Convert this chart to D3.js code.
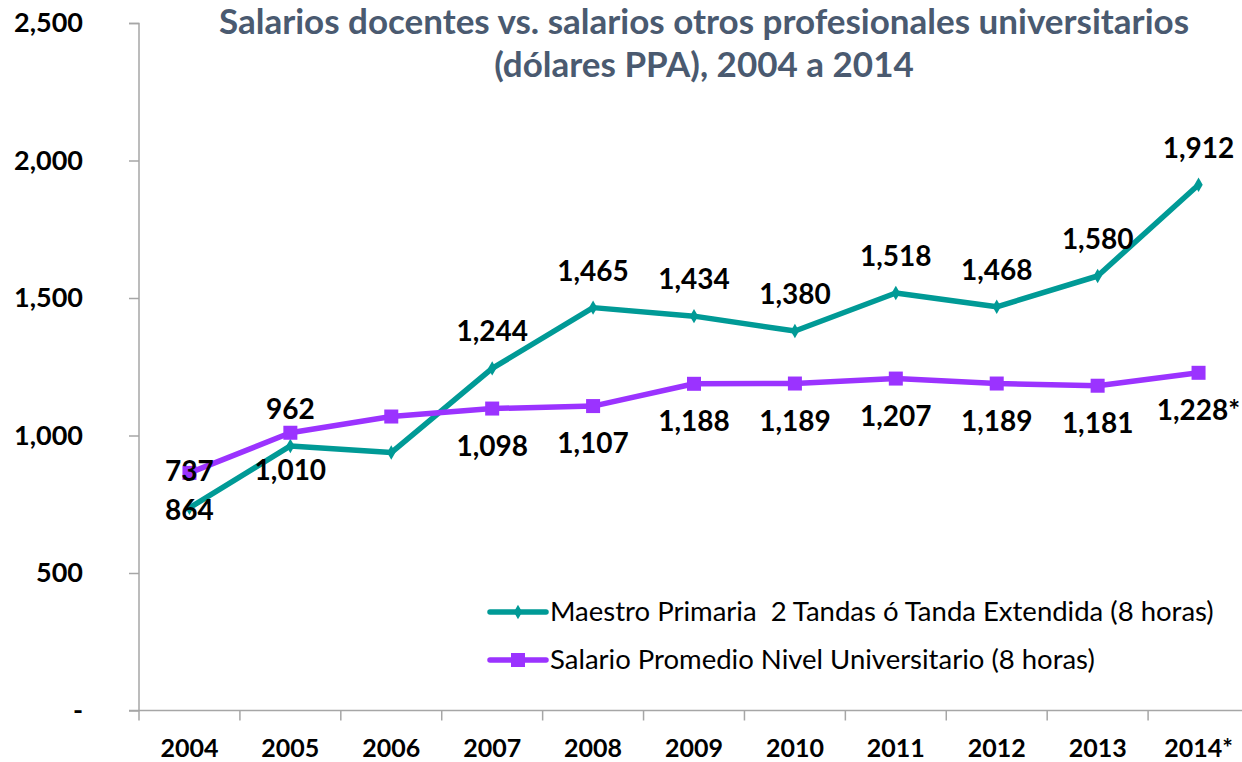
<!DOCTYPE html>
<html>
<head>
<meta charset="utf-8">
<script src="https://cdnjs.cloudflare.com/ajax/libs/d3/7.8.5/d3.min.js"></script>
<style>
  body { margin: 0; background: #fff; }
  text { font-family: Lato, "Open Sans", sans-serif; }
</style>
</head>
<body>
<div id="chart"></div>
<script>
// data
var years = ["2004", "2005", "2006", "2007", "2008", "2009", "2010", "2011", "2012", "2013", "2014*"];
var maestro = [737, 962, 938, 1244, 1465, 1434, 1380, 1518, 1468, 1580, 1912];
var maestroLabels = ["737", "962", "", "1,244", "1,465", "1,434", "1,380", "1,518", "1,468", "1,580", "1,912"];
var salario = [864, 1010, 1069, 1098, 1107, 1188, 1189, 1207, 1189, 1181, 1228];
var salarioLabels = ["864", "1,010", "", "1,098", "1,107", "1,188", "1,189", "1,207", "1,189", "1,181", "1,228*"];
var yTicks = [0, 500, 1000, 1500, 2000, 2500];
var seriesNames = ["Maestro Primaria  2 Tandas ó Tanda Extendida (8 horas)", "Salario Promedio Nivel Universitario (8 horas)"];

var W = 1242, H = 762;
var margin = {top: 23, right: 0, bottom: 52, left: 139};
var width = 1249 - margin.left, height = 710.5 - margin.top;

var svg = d3.select("#chart").append("svg")
    .attr("width", W).attr("height", H)
  .append("g")
    .attr("transform", "translate(" + margin.left + "," + margin.top + ")");

var x = d3.scaleBand().domain(years).range([0, width]);
var y = d3.scaleLinear().domain([0, 2500]).range([height, 0]);

var teal = "#009a96", purple = "#9b33ff";

// axes
var yAxis = d3.axisLeft(y).tickValues(yTicks).tickSize(10).tickPadding(46)
    .tickFormat(function(d) { return d === 0 ? "-" : d3.format(",")(d); });
var gy = svg.append("g").call(yAxis);
gy.select(".domain").attr("stroke", "#a6a6a6").attr("stroke-width", 1.5).attr("d", "M-10,0.5H0V" + height + "H-10");
gy.selectAll(".tick line").attr("stroke", "#a6a6a6").attr("stroke-width", 1.5);
gy.selectAll(".tick text").attr("font-size", 27).attr("font-weight", "bold").attr("fill", "#000");

var gx = svg.append("g").attr("transform", "translate(0," + height + ")");
gx.append("line").attr("x1", 0).attr("x2", width).attr("stroke", "#a6a6a6").attr("stroke-width", 1.5);
gx.selectAll(".xt").data(d3.range(years.length + 1)).enter().append("line")
    .attr("x1", function(i) { return i * x.step(); }).attr("x2", function(i) { return i * x.step(); })
    .attr("y1", 0).attr("y2", 10).attr("stroke", "#a6a6a6").attr("stroke-width", 1.5);
gx.selectAll(".xl").data(years).enter().append("text")
    .attr("x", function(d) { return x(d) + x.bandwidth() / 2; })
    .attr("y", 46).attr("text-anchor", "middle")
    .attr("font-size", 25).attr("font-weight", "bold").text(function(d) { return d; });

var cx = function(d, i) { return x(years[i]) + x.bandwidth() / 2; };
var line = d3.line().x(cx).y(function(d) { return y(d); });

svg.append("path").datum(maestro).attr("d", line)
    .attr("fill", "none").attr("stroke", teal).attr("stroke-width", 5.5).attr("stroke-linejoin", "round");
svg.append("path").datum(salario).attr("d", line)
    .attr("fill", "none").attr("stroke", purple).attr("stroke-width", 5.5).attr("stroke-linejoin", "round");

svg.selectAll(".dm").data(maestro).enter().append("path")
    .attr("transform", function(d, i) { return "translate(" + cx(d, i) + "," + y(d) + ")"; })
    .attr("d", d3.symbol(d3.symbolDiamond, 60)).attr("fill", teal);
svg.selectAll(".sq").data(salario).enter().append("rect")
    .attr("x", function(d, i) { return cx(d, i) - 7; }).attr("y", function(d) { return y(d) - 7; })
    .attr("width", 14).attr("height", 14).attr("fill", purple);

// data labels: maestro above, salario below
svg.selectAll(".lm").data(maestro).enter().append("text")
    .attr("x", function(d, i) { return cx(d, i); }).attr("y", function(d) { return y(d) - 27; })
    .attr("text-anchor", "middle").attr("font-size", 28).attr("font-weight", "bold")
    .text(function(d, i) { return maestroLabels[i]; });
svg.selectAll(".ls").data(salario).enter().append("text")
    .attr("x", function(d, i) { return cx(d, i); }).attr("y", function(d) { return y(d) + 47; })
    .attr("text-anchor", "middle").attr("font-size", 28).attr("font-weight", "bold")
    .text(function(d, i) { return salarioLabels[i]; });

// title
var title = d3.select("svg").append("text").attr("text-anchor", "middle")
    .attr("fill", "#4a5a70").attr("font-size", 35).attr("font-weight", "bold");
title.append("tspan").attr("x", 704).attr("y", 34).text("Salarios docentes vs. salarios otros profesionales universitarios");
title.append("tspan").attr("x", 704).attr("y", 77).text("(dólares PPA), 2004 a 2014");

// legend
var legend = d3.select("svg").append("g").attr("transform", "translate(490,612)");
[teal, purple].forEach(function(c, i) {
  var g = legend.append("g").attr("transform", "translate(0," + i * 48 + ")");
  g.append("line").attr("x1", 0).attr("x2", 56).attr("stroke", c).attr("stroke-width", 5.5).attr("stroke-linecap", "round");
  if (i === 0) g.append("path").attr("transform", "translate(28,0)").attr("d", d3.symbol(d3.symbolDiamond, 60)).attr("fill", c);
  else g.append("rect").attr("x", 21).attr("y", -7).attr("width", 14).attr("height", 14).attr("fill", c);
  g.append("text").attr("x", 60).attr("y", 9).attr("font-size", 27.5).style("white-space", "pre")
    .text(seriesNames[i]);
});
</script>
</body>
</html>
